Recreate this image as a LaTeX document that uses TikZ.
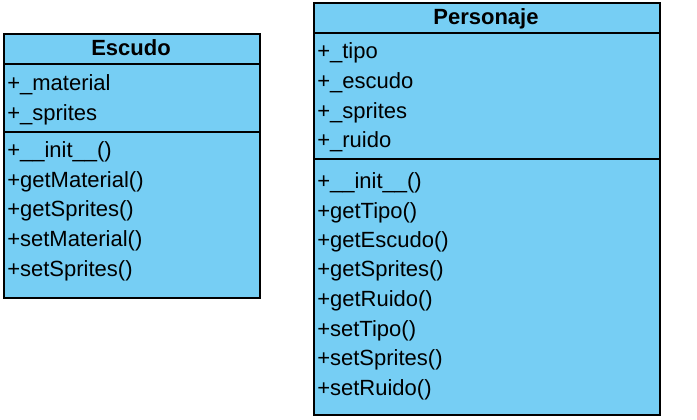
\documentclass[tikz,border=0pt]{standalone}
\usepackage{fontspec}
\setmainfont{Liberation Sans}
\definecolor{classblue}{RGB}{118,206,244}
\begin{document}
\begin{tikzpicture}[
        x=0.75pt, y=-0.75pt,
        part/.style={rectangle, draw=black, fill=classblue, line width=1.5pt, inner sep=0pt, anchor=north west},
        title/.style={anchor=base, inner sep=0pt, font=\fontsize{16.5}{19.8}\selectfont\bfseries},
        member/.style={anchor=base west, inner sep=0pt, font=\fontsize{16.5}{19.8}\selectfont}
    ]
    \useasboundingbox (0,0) rectangle (697,420);

    % Escudo
    \node[part, minimum width=192pt, minimum height=22.5pt] (escTitle) at (3,33) {};
    \node[part, minimum width=192pt, minimum height=51pt] (escAttr) at (3,63) {};
    \node[part, minimum width=192pt, minimum height=124.5pt] (escOps) at (3,131) {};

    \node[title] (escName) at (131,56) {Escudo};
    \node[member] (escA1) at (7,91) {+\_material};
    \node[member] (escA2) at (7,121) {+\_sprites};
    \node[member] (escM1) at (7,157.5) {+\_\_init\_\_()};
    \node[member] (escM2) at (7,187.5) {+getMaterial()};
    \node[member] (escM3) at (7,217) {+getSprites()};
    \node[member] (escM4) at (7,247) {+setMaterial()};
    \node[member] (escM5) at (7,277) {+setSprites()};

    % Personaje
    \node[part, minimum width=259.5pt, minimum height=22.5pt] (perTitle) at (313,2) {};
    \node[part, minimum width=259.5pt, minimum height=94.5pt] (perAttr) at (313,32) {};
    \node[part, minimum width=259.5pt, minimum height=192pt] (perOps) at (313,158) {};

    \node[title] (perName) at (486,25) {Personaje};
    \node[member] (perA1) at (317,59) {+\_tipo};
    \node[member] (perA2) at (317,88.5) {+\_escudo};
    \node[member] (perA3) at (317,118.5) {+\_sprites};
    \node[member] (perA4) at (317,148) {+\_ruido};
    \node[member] (perM1) at (317,189) {+\_\_init\_\_()};
    \node[member] (perM2) at (317,218.5) {+getTipo()};
    \node[member] (perM3) at (317,248) {+getEscudo()};
    \node[member] (perM4) at (317,277) {+getSprites()};
    \node[member] (perM5) at (317,307) {+getRuido()};
    \node[member] (perM6) at (317,336.5) {+setTipo()};
    \node[member] (perM7) at (317,366) {+setSprites()};
    \node[member] (perM8) at (317,396) {+setRuido()};

\end{tikzpicture}
\end{document}
